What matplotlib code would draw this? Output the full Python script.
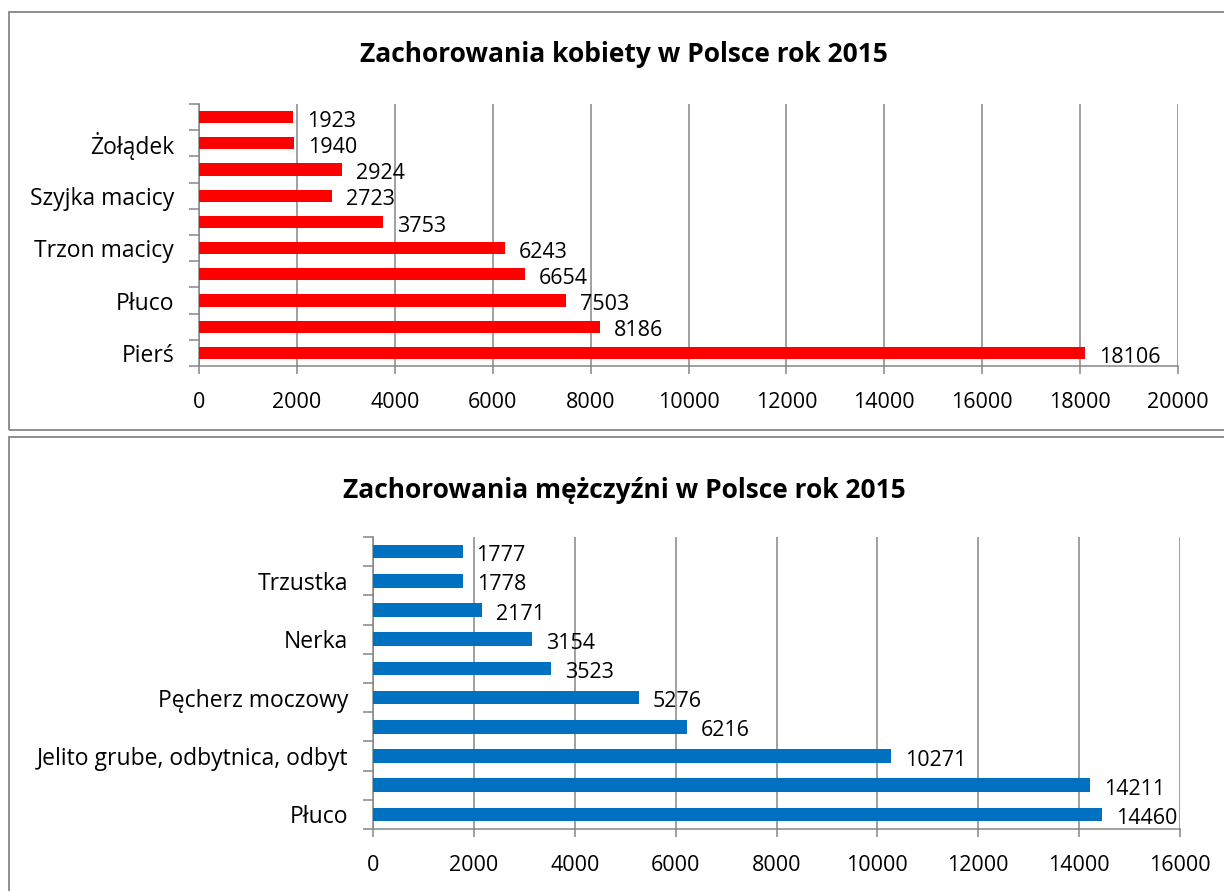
import matplotlib.pyplot as plt
import matplotlib.patches as patches
import numpy as np

plt.rcParams['font.family'] = ['Open Sans', 'DejaVu Sans']

# data, bottom to top as drawn
women_labels = ["Pierś", "", "Płuco", "", "Trzon macicy", "", "Szyjka macicy", "", "Żołądek", ""]
women_values = [18106, 8186, 7503, 6654, 6243, 3753, 2723, 2924, 1940, 1923]
men_labels = ["Płuco", "", "Jelito grube, odbytnica, odbyt", "", "Pęcherz moczowy", "",
              "Nerka", "", "Trzustka", ""]
men_values = [14460, 14211, 10271, 6216, 5276, 3523, 3154, 2171, 1778, 1777]

women_title = "Zachorowania kobiety w Polsce rok 2015"
men_title = "Zachorowania mężczyźni w Polsce rok 2015"
women_xmax, men_xmax = 20000, 16000

grey = "#868686"

fig = plt.figure(figsize=(12.24, 8.91), dpi=100)

# panel frames (pixel coords -> figure fraction)
W, H = 1224, 891
for (x0, y0, x1, y1) in [(9, 12, 1230, 430), (9, 437, 1230, 900)]:
    fig.patches.append(patches.Rectangle((x0 / W, 1 - y1 / H), (x1 - x0) / W, (y1 - y0) / H,
                                         transform=fig.transFigure, fill=False,
                                         edgecolor=grey, linewidth=1.3, clip_on=False))


def draw(ax, labels, values, color, xmax, title, title_y):
    y = np.arange(len(values))
    bars = ax.barh(y, values, height=0.47, color=color, zorder=3)
    ax.set_xlim(0, xmax)
    ax.set_ylim(-0.5, len(values) - 0.5)
    ax.set_xticks(np.arange(0, xmax + 1, 2000))
    ax.grid(axis='x', color=grey, linewidth=1.1, zorder=0)
    ax.set_yticks(y, labels)
    ax.set_yticks(np.arange(-0.5, len(values), 1), minor=True)
    ax.tick_params(axis='y', which='major', length=0, pad=18, labelsize=16.5)
    ax.tick_params(axis='y', which='minor', length=7, color=grey, width=1.1)
    ax.tick_params(axis='x', length=6, color=grey, width=1.1, labelsize=15.5, pad=13)
    for s in ['top', 'right']:
        ax.spines[s].set_visible(False)
    for s in ['left', 'bottom']:
        ax.spines[s].set_color(grey)
        ax.spines[s].set_linewidth(1.1)
    for b, v in zip(bars, values):
        ax.annotate(str(v), (v, b.get_y() + b.get_height() / 2), xytext=(10, -3),
                    textcoords='offset points', va='center', ha='left', fontsize=15.5)
    fig.text(0.51, title_y, title, ha='center', va='center', fontsize=19, fontweight='bold')


ax1 = fig.add_axes([199 / W, 1 - 366 / H, (1178 - 199) / W, (366 - 104) / H])
draw(ax1, women_labels, women_values, "#FF0000", women_xmax, women_title, 1 - 55 / H)

ax2 = fig.add_axes([373 / W, 1 - 829 / H, (1180 - 373) / W, (829 - 537) / H])
draw(ax2, men_labels, men_values, "#0070C0", men_xmax, men_title, 1 - 490 / H)

fig.savefig("out.png", dpi=100)
